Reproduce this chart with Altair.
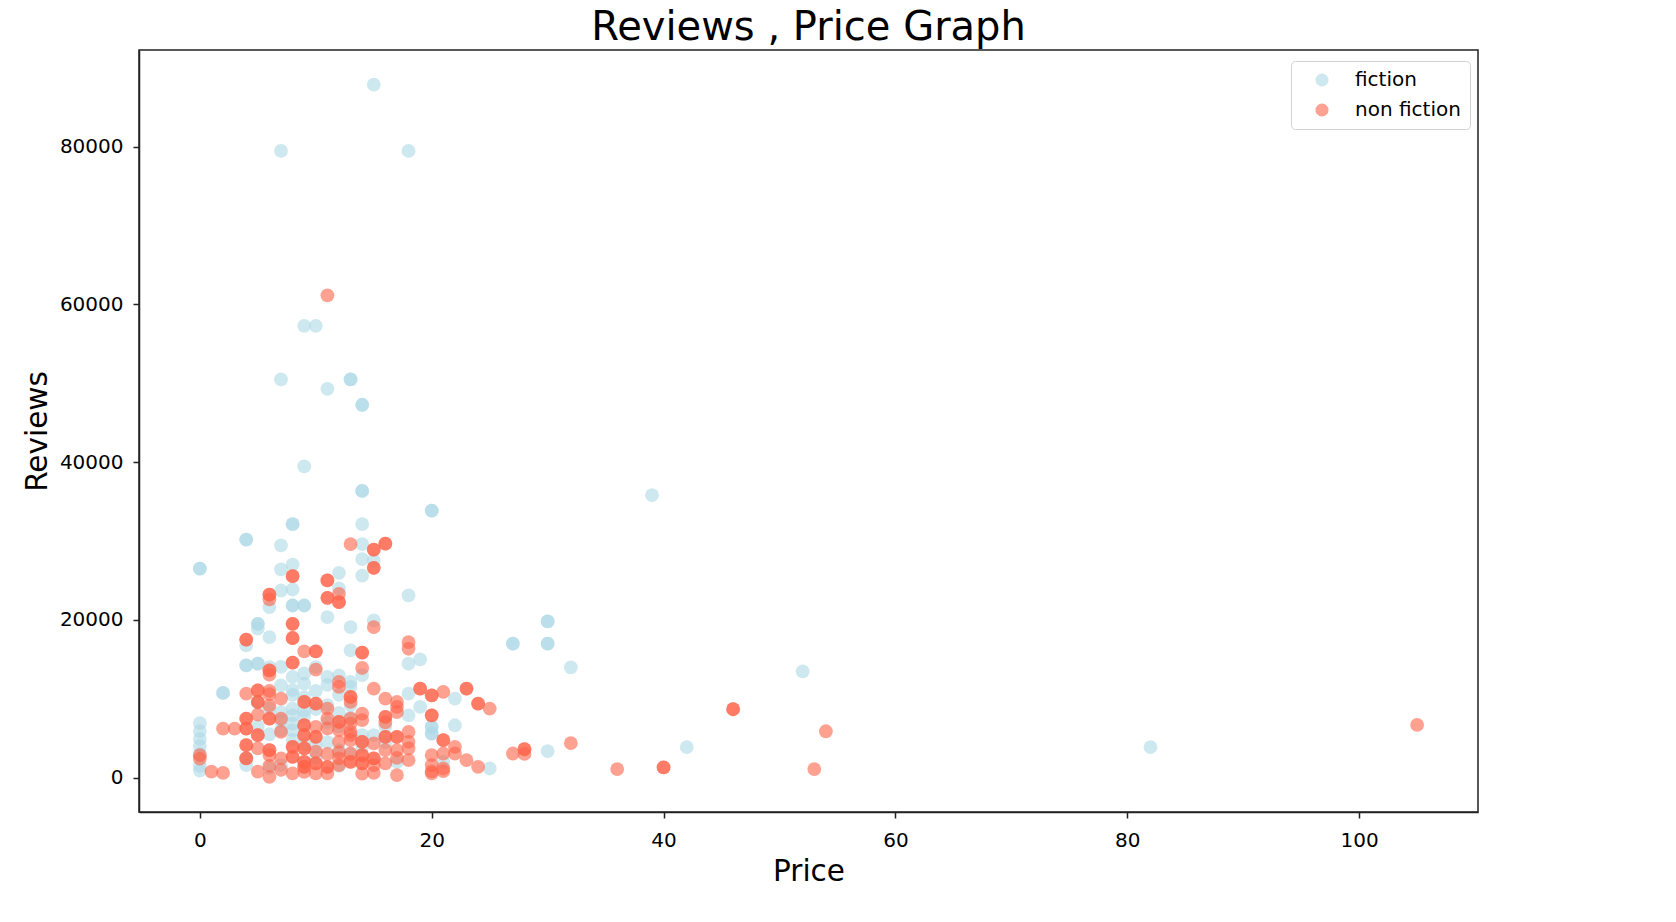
import altair as alt
import pandas as pd

title_text = "Reviews , Price Graph"
genres = ["fiction", "non fiction"]
genre_colors = ["#add8e6", "#ff6347"]
x_ticks = [0, 20, 40, 60, 80, 100]
y_ticks = [0, 20000, 40000, 60000, 80000]

# (price, reviews); repeated entries = darker overlapping dots
fiction_points = [
    (15, 87841), (7, 79446), (18, 79446), (9, 57271), (10, 57271), (7, 50482), (11, 49288),
    (13, 50482), (13, 50482), (14, 47265), (14, 47265), (9, 39459), (14, 36348), (14, 36348),
    (39, 35799), (20, 33844), (20, 33844), (8, 32122), (8, 32122), (14, 32122), (4, 30183), (4, 30183),
    (7, 29442), (14, 29600), (0, 26490), (0, 26490), (8, 27000), (7, 26400), (14, 27700), (15, 27500),
    (12, 25960), (14, 25600), (7, 23720), (8, 23850), (12, 24000), (18, 23090), (6, 21620),
    (8, 21820), (8, 21820), (9, 21820), (9, 21820), (11, 20350), (15, 19920), (13, 19090),
    (5, 19500), (5, 19500), (5, 18900), (6, 17820), (4, 16760), (13, 16130),
    (30, 19800), (30, 19800), (27, 16980), (27, 16980), (30, 16980), (30, 16980),
    (32, 13980), (52, 13470), (42, 3860), (82, 3860), (30, 3350), (25, 1160),
    (18, 14450), (19, 15000), (4, 14230), (4, 14230), (5, 14450), (5, 14450), (6, 14000), (7, 14030),
    (8, 12760), (9, 11920), (11, 12760), (12, 12970), (13, 12130), (13, 11500), (2, 10740), (2, 10740),
    (7, 11700), (8, 11100), (8, 10500), (5, 9500), (8, 8750), (8, 7900), (8, 6860), (8, 6000),
    (7, 8300), (7, 7200), (7, 6000), (9, 8500), (9, 7800), (10, 8700), (11, 11750), (11, 9200),
    (12, 10500), (12, 8200), (12, 6500), (13, 9200), (13, 7600),
    (0, 6900), (0, 5900), (0, 4900), (0, 4000), (0, 3000), (0, 1500), (0, 900),
    (4, 1580), (7, 1580), (18, 10650), (19, 8960), (18, 7900), (22, 10020), (22, 6640),
    (20, 6440), (20, 6440), (20, 5590), (20, 5590), (14, 5380), (15, 5380), (21, 2000),
    (10, 4000), (11, 4500), (12, 3500), (9, 4200), (8, 4800), (6, 5500), (5, 6500), (6, 8800),
    (10, 11000), (9, 10200), (11, 7000), (13, 3000), (14, 4000), (16, 4500), (17, 2000),
    (12, 1500), (10, 2500), (6, 1200), (16, 6500), (4, 2500), (14, 13000), (10, 14000), (9, 13200),
]

nonfiction_points = [
    (11, 61133), (13, 29600), (16, 29651), (16, 29651), (15, 28900), (15, 28900), (15, 26600), (15, 26600),
    (8, 25550), (8, 25550), (11, 25000), (11, 25000), (6, 23210), (6, 23210), (6, 22600), (11, 22800), (11, 22800),
    (12, 23300), (12, 22250), (12, 22250), (8, 19500), (8, 19500), (8, 17700), (8, 17700), (4, 17500), (4, 17500),
    (15, 19090), (18, 17190), (18, 16340), (9, 16000), (10, 16000), (10, 16000), (14, 15840), (14, 15840), (14, 13900),
    (8, 14570), (8, 14570), (6, 13600), (6, 13600), (6, 13050), (10, 13700),
    (4, 10650), (5, 11070), (5, 11070), (6, 11000), (5, 9600), (5, 9600), (6, 10600), (6, 9170), (7, 10020),
    (9, 9600), (9, 9600), (10, 9390), (10, 9390), (11, 8750), (12, 12130), (12, 11500),
    (4, 7490), (4, 7490), (5, 8000), (6, 7490), (6, 7490), (7, 7490), (9, 6650), (9, 6650), (9, 5380), (9, 5380),
    (9, 3700), (9, 3700), (10, 6440), (10, 5170), (10, 5170), (11, 7490), (11, 6230), (12, 7060), (12, 7060),
    (12, 6020), (12, 4540), (13, 7490), (13, 5380), (2, 6220), (3, 6220), (4, 6220), (4, 6220), (5, 5380), (5, 5380),
    (7, 5800), (8, 3900), (8, 3900), (4, 4110), (4, 4110), (5, 3700), (6, 3480), (6, 3480), (6, 2850),
    (4, 2430), (4, 2430), (7, 2430), (8, 2640), (8, 2640), (9, 2010), (9, 2010), (9, 1370), (9, 1370), (9, 740),
    (10, 1800), (10, 1800), (11, 1370), (11, 1370), (12, 2430), (13, 2010), (13, 2010), (0, 2850), (0, 2400),
    (1, 750), (2, 600), (5, 750), (6, 110), (8, 530), (10, 530), (11, 530),
    (15, 11280), (13, 10230), (13, 10230), (13, 9600), (16, 10020), (17, 9600), (17, 8960), (17, 8320),
    (19, 11280), (19, 11280), (20, 10440), (20, 10440), (21, 10860), (23, 11280), (23, 11280), (24, 9390), (24, 9390),
    (25, 8750), (20, 7900), (20, 7900), (16, 7700), (16, 7700), (16, 7000), (13, 6860), (14, 8110), (14, 7280),
    (13, 5800), (13, 4750), (13, 3060), (14, 4540), (14, 4540), (16, 5170), (16, 5170), (17, 5170), (17, 5170),
    (18, 5800), (18, 4540), (18, 3700), (17, 3500), (16, 3500), (15, 4330), (14, 2850), (14, 2850), (14, 1800), (14, 1800),
    (15, 2430), (15, 2430), (15, 1580), (17, 320), (18, 2220), (20, 2850), (20, 1580), (20, 530), (20, 800),
    (21, 4750), (21, 4750), (21, 3060), (22, 3910), (22, 3060), (23, 2220), (24, 1370), (21, 820), (21, 1160),
    (27, 3060), (28, 3600), (28, 3600), (28, 3000), (32, 4370), (36, 1080), (40, 1290), (40, 1290),
    (46, 8670), (46, 8670), (53, 1080), (54, 5880), (105, 6679),
    (14, 500), (15, 600), (12, 1600), (11, 3000), (10, 3300), (12, 3200), (16, 1800), (17, 2500), (7, 1000), (6, 1500),
]

rows = [{"Price": p, "Reviews": r, "Genre": genres[0]} for p, r in fiction_points]
rows += [{"Price": p, "Reviews": r, "Genre": genres[1]} for p, r in nonfiction_points]
df = pd.DataFrame(rows)

FONT = "DejaVu Sans"

chart = (
    alt.Chart(df, title=alt.TitleParams(text=title_text, fontSize=40, font=FONT, fontWeight="normal",
                                        color="black", anchor="middle", baseline="bottom",
                                        offset=2, dy=40))
    .mark_circle(size=190, opacity=0.6)
    .encode(
        x=alt.X("Price:Q",
                scale=alt.Scale(domain=[-5.25, 110.25], nice=False, zero=False),
                axis=alt.Axis(values=x_ticks, title="Price", grid=False, format="d",
                              labelPadding=12, titlePadding=7)),
        y=alt.Y("Reviews:Q",
                scale=alt.Scale(domain=[-4355, 92233], nice=False, zero=False),
                axis=alt.Axis(values=y_ticks, title="Reviews", grid=False, format="d",
                              labelPadding=10, titlePadding=7)),
        color=alt.Color("Genre:N",
                        scale=alt.Scale(domain=genres, range=genre_colors),
                        legend=alt.Legend(title=None, orient="none", legendX=1152, legendY=11,
                                          symbolType="circle", symbolSize=170, symbolOpacity=0.6,
                                          labelFontSize=20, labelFont=FONT, labelColor="black",
                                          padding=9, symbolOffset=12, labelOffset=23, rowPadding=10,
                                          fillColor="white", strokeColor="#d3d3d3", cornerRadius=4)),
    )
    .properties(width=1339, height=762,
                autosize=alt.AutoSizeParams(type="none"),
                padding={"left": 131, "top": 42, "right": 60, "bottom": 90})
    .configure_view(stroke="#222222", strokeWidth=1.5)
    .configure_axis(domainColor="#222222", domainWidth=1.5, tickColor="#222222", tickWidth=1.5,
                    tickSize=6, labelFontSize=20, labelFont=FONT, labelColor="black",
                    titleFontSize=29.5, titleFont=FONT, titleFontWeight="normal", titleColor="black")
)

chart.save("out.html", embed_options={"renderer": "svg", "actions": False})
